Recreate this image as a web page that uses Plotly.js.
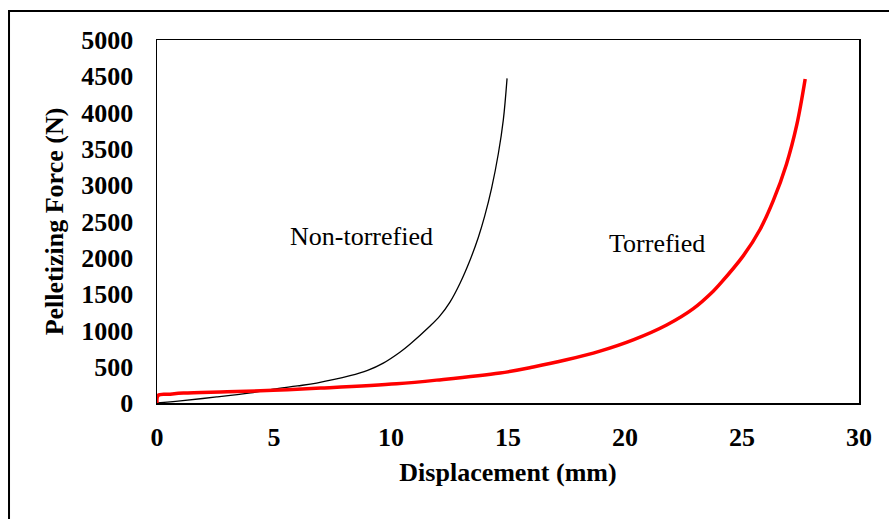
<!DOCTYPE html>
<html>
<head>
<meta charset="utf-8">
<script src="https://cdn.plot.ly/plotly-3.0.1.min.js"></script>
<style>html,body{margin:0;padding:0;background:#fff;}#chart{width:889px;height:519px;}</style>
</head>
<body>
<div id="chart"></div>
<script>
const nonTorrefiedX = [0, 1, 2.55, 4, 4.97, 6, 6.82, 8.25, 9.0, 9.67, 10.38, 10.81, 11.67, 12.09, 12.52, 12.95, 13.38, 13.73, 14.0, 14.3, 14.59, 14.8, 14.96];
const nonTorrefiedY = [0, 30, 83, 140, 190, 235, 275, 376, 450, 550, 700, 810, 1060, 1200, 1390, 1650, 1970, 2280, 2570, 2960, 3440, 3900, 4472];
const torrefiedX = [0, 0.05, 0.5, 1.13, 3, 4.97, 7, 10.24, 11.95, 14.66, 16.08, 17.5, 18.93, 20.35, 21.78, 22.92, 23.77, 24.06, 25.06, 25.77, 26.34, 26.9, 27.34, 27.7];
const torrefiedY = [0, 105, 120, 138, 155, 174, 205, 265, 315, 413, 496, 595, 715, 870, 1075, 1300, 1540, 1640, 2030, 2390, 2790, 3290, 3830, 4463];
const xTicks = [0, 5, 10, 15, 20, 25, 30];
const yTicks = [0, 500, 1000, 1500, 2000, 2500, 3000, 3500, 4000, 4500, 5000];
const seriesNames = ["Non-torrefied", "Torrefied"];
const labelPos = [[8.72, 2290], [21.37, 2194]];

const font = "Liberation Serif, Times New Roman, serif";
const traces = [
  {x: nonTorrefiedX, y: nonTorrefiedY, name: seriesNames[0], mode: "lines",
   line: {color: "#000000", width: 1.3, shape: "spline", smoothing: 1}},
  {x: torrefiedX, y: torrefiedY, name: seriesNames[1], mode: "lines",
   line: {color: "#ff0000", width: 3.5, shape: "spline", smoothing: 1}}
];
const layout = {
  width: 889, height: 519,
  margin: {l: 157, r: 30, t: 40, b: 116},
  paper_bgcolor: "#ffffff", plot_bgcolor: "#ffffff",
  showlegend: false,
  font: {family: font, color: "#000"},
  xaxis: {
    range: [0, 30], tickvals: xTicks, ticktext: xTicks.map(String),
    showgrid: false, zeroline: false,
    showline: true, mirror: true, linecolor: "#000", linewidth: 1.5,
    ticks: "outside", ticklen: 10, tickcolor: "rgba(0,0,0,0)",
    tickfont: {family: font, size: 26, color: "#000", weight: "bold"},
    title: {text: "<b>Displacement (mm)</b>", font: {family: font, size: 26, color: "#000"}, standoff: 12}
  },
  yaxis: {
    range: [0, 5000], tickvals: yTicks, ticktext: yTicks.map(String),
    showgrid: false, zeroline: false,
    showline: true, mirror: true, linecolor: "#000", linewidth: 1.5,
    ticks: "outside", ticklen: 17, tickcolor: "rgba(0,0,0,0)",
    tickfont: {family: font, size: 26, color: "#000", weight: "bold"},
    title: {text: "<b>Pelletizing Force (N)</b>", font: {family: font, size: 26, color: "#000"}, standoff: 10}
  },
  annotations: seriesNames.map((n, i) => ({
    x: labelPos[i][0], y: labelPos[i][1], xref: "x", yref: "y",
    text: n, showarrow: false, font: {family: font, size: 26, color: "#000"}
  })),
  shapes: [{
    type: "rect", xref: "paper", yref: "paper",
    x0: -0.2108, x1: 1.06, y0: -0.34, y1: 1.0798,
    line: {color: "#000", width: 2}, fillcolor: "rgba(0,0,0,0)", layer: "below"
  }]
};
Plotly.newPlot("chart", traces, layout, {staticPlot: true, displayModeBar: false});
</script>
</body>
</html>
